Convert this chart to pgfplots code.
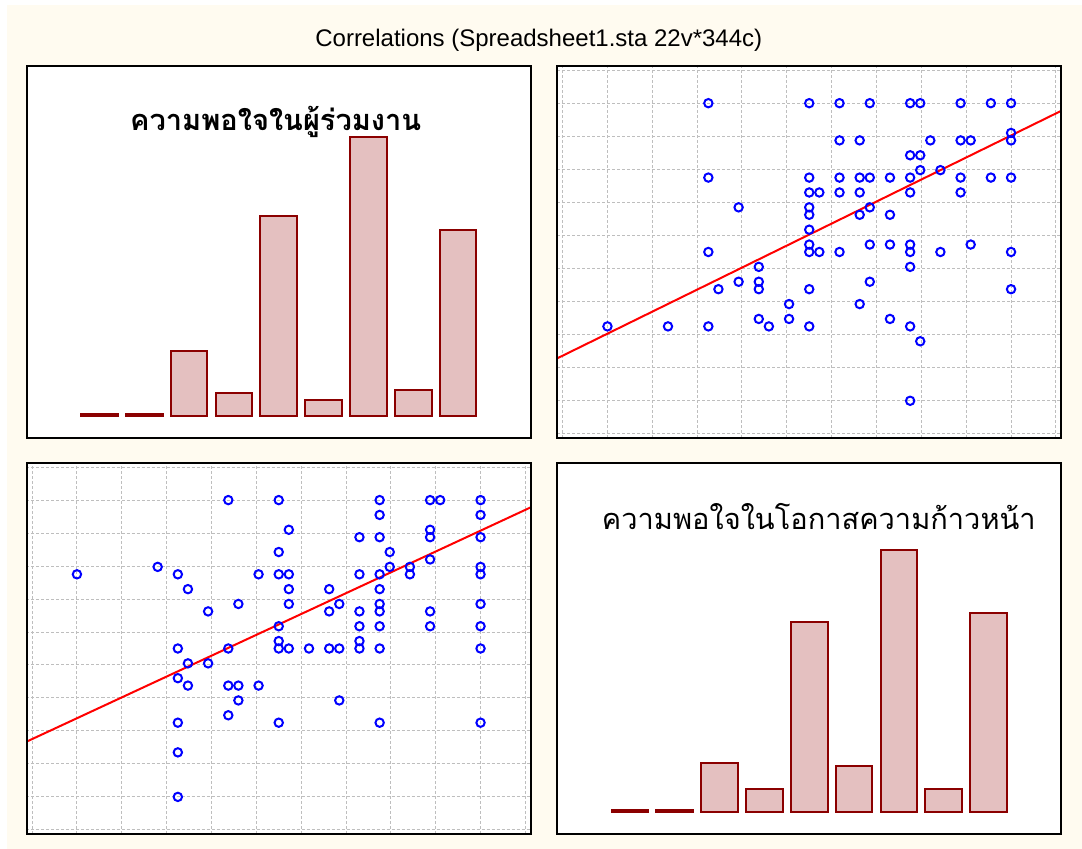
\documentclass[border=0pt]{standalone}
\usepackage{fontspec}
\setmainfont{Liberation Sans}
\newfontfamily\thaifont[Script=Thai]{Loma}
\usepackage{pgfplots}
\usepackage{pgfplotstable}
\pgfplotsset{compat=1.18}
\definecolor{cream}{RGB}{255,251,240}
\definecolor{barfill}{RGB}{228,192,192}
\definecolor{baredge}{RGB}{139,0,0}
\definecolor{gridgray}{RGB}{190,190,190}

% x = variable 2 (column), y = variable 1 (row)
\pgfplotstableread{
x y
2.0 5.0
3.0 5.0
3.3 5.0
3.6 5.0
4.0 5.0
4.1 5.0
4.5 5.0
4.8 5.0
5.0 5.0
5.0 4.6
3.3 4.5
3.5 4.5
4.2 4.5
4.5 4.5
4.6 4.5
5.0 4.5
4.0 4.3
4.1 4.3
4.1 4.1
4.3 4.1
2.0 4.0
3.0 4.0
3.3 4.0
3.5 4.0
3.6 4.0
3.8 4.0
4.0 4.0
4.5 4.0
4.8 4.0
5.0 4.0
3.0 3.8
3.1 3.8
3.3 3.8
3.5 3.8
4.0 3.8
4.5 3.8
2.3 3.6
3.0 3.6
3.6 3.6
3.0 3.5
3.5 3.5
3.8 3.5
3.0 3.3
3.0 3.1
3.6 3.1
3.8 3.1
4.0 3.1
4.6 3.1
2.0 3.0
3.0 3.0
3.1 3.0
3.3 3.0
4.0 3.0
4.3 3.0
5.0 3.0
2.5 2.8
4.0 2.8
2.3 2.6
2.5 2.6
3.6 2.6
2.1 2.5
2.5 2.5
3.0 2.5
5.0 2.5
2.8 2.3
3.5 2.3
2.5 2.1
2.8 2.1
3.8 2.1
1.0 2.0
1.6 2.0
2.0 2.0
2.6 2.0
3.0 2.0
4.0 2.0
4.1 1.8
4.0 1.0
}\pts

\pgfplotstableread{
x c
1.2222 1
1.6667 1
2.1111 28
2.5556 10
3.0000 86
3.4444 7
3.8889 120
4.3333 11
4.7778 80
}\histA

\pgfplotstableread{
x c
1.2222 1
1.6667 1
2.1111 21
2.5556 10
3.0000 82
3.4444 20
3.8889 113
4.3333 10
4.7778 86
}\histB

\pgfplotsset{
  panel/.style={scale only axis, width=252.25pt, height=186pt,
    anchor=south west, xmin=0.5, xmax=5.5,
    axis line style={draw=none},
    axis background/.style={fill=white}},
  scat/.style={panel, ymin=0.5, ymax=5.5,
    xtick={0.5556,1,1.4444,1.8889,2.3333,2.7778,3.2222,3.6667,4.1111,4.5556,5,5.4444},
    ytick={0.5556,1,1.4444,1.8889,2.3333,2.7778,3.2222,3.6667,4.1111,4.5556,5,5.4444},
    xticklabels={}, yticklabels={}, major tick length=0pt,
    tick style={draw=none},
    grid=major,
    major grid style={draw=gridgray, line width=0.5pt, dash pattern=on 1.5pt off 1pt}},
  hist/.style={panel, ymin=-9.5, ymax=150.5, ticks=none},
  pts/.style={only marks, mark=o, mark size=2.1pt,
    mark options={draw=blue, line width=1pt}},
  bars/.style={ybar, bar width=0.3636, fill=barfill, draw=baredge, line width=1pt},
}

\begin{document}
\begin{tikzpicture}
\fill[white] (0,0) rectangle (541pt,424.5pt);
\fill[cream] (3.5pt,0) rectangle (541pt,422pt);
\node[anchor=base, font=\fontsize{12}{14}\selectfont] at (269.4pt,401.2pt)
  {Correlations (Spreadsheet1.sta 22v*344c)};

% top-left histogram
\begin{axis}[hist, name=tl, at={(13.25pt,205.5pt)},
  title={\thaifont\bfseries ความพอใจในผู้ร่วมงาน},
  title style={at={(0.494,0.795)}, anchor=base, font=\fontsize{14.5}{16}\selectfont}]
\addplot[bars] table[x=x, y=c] {\histA};
\end{axis}

% top-right scatter
\begin{axis}[scat, name=tr, at={(278.5pt,205.5pt)}]
\addplot[pts] table[x=x, y=y] {\pts};
\addplot[red, line width=1pt] coordinates {(0.5,1.569) (5.5,4.899)};
\end{axis}

% bottom-left scatter
\begin{axis}[scat, name=bl, at={(13.25pt,7.5pt)}, height=185.5pt]
\addplot[pts] table[x=y, y=x] {\pts};
\addplot[red, line width=1pt] coordinates {(0.5,1.744) (5.5,4.904)};
\end{axis}

% bottom-right histogram
\begin{axis}[hist, name=br, at={(278.5pt,7.5pt)}, height=185.5pt,
  title={\thaifont ความพอใจในโอกาสความก้าวหน้า},
  title style={at={(0.519,0.7875)}, anchor=base, font=\fontsize{14.5}{16}\selectfont}]
\addplot[bars] table[x=x, y=c] {\histB};
\end{axis}

\foreach \a in {tl,tr,bl,br}{
  \draw[black, line width=1pt] (\a.south west) rectangle (\a.north east);
}
\end{tikzpicture}
\end{document}
